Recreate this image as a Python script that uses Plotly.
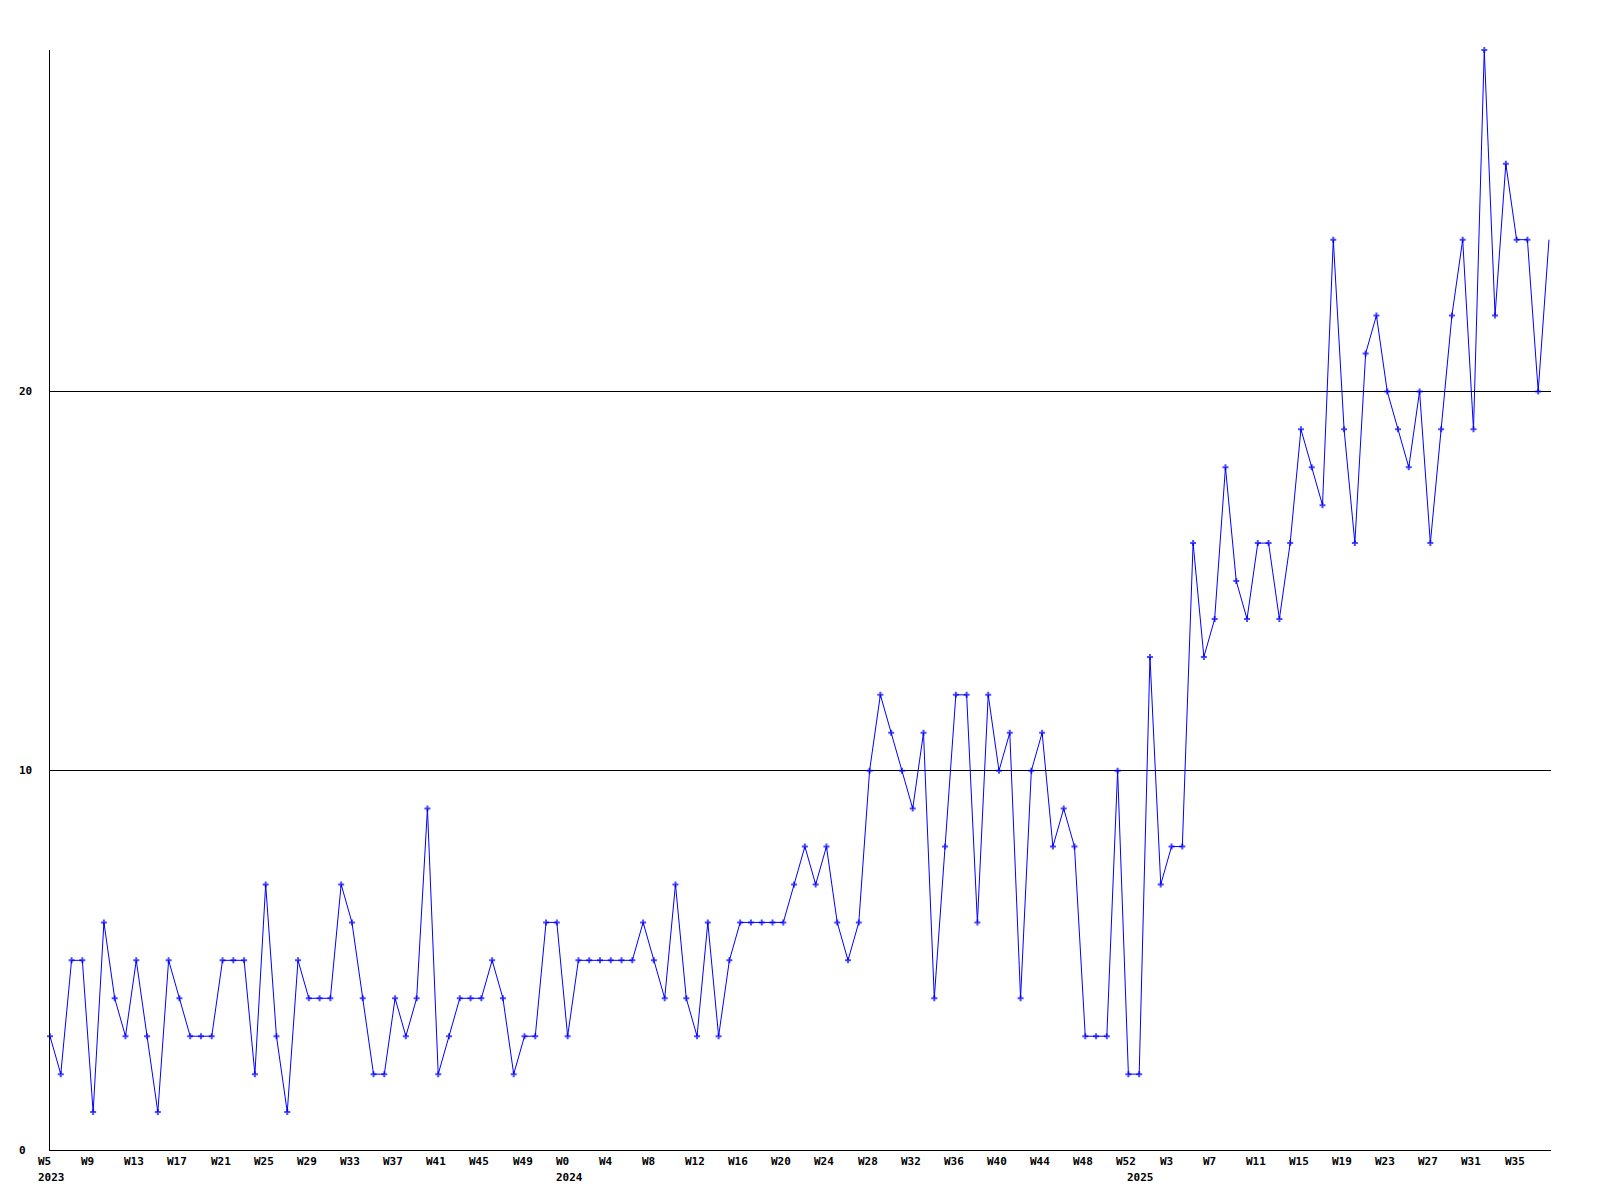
import plotly.graph_objects as go

# ---- data ----
years = [2023, 2024, 2025]
first_week = [5, 0, 0]
last_week = [52, 52, 38]

values = [
    3, 2, 5, 5, 1, 6, 4, 3, 5, 3,
    1, 5, 4, 3, 3, 3, 5, 5, 5, 2,
    7, 3, 1, 5, 4, 4, 4, 7, 6, 4,
    2, 2, 4, 3, 4, 9, 2, 3, 4, 4,
    4, 5, 4, 2, 3, 3, 6, 6, 3, 5,
    5, 5, 5, 5, 5, 6, 5, 4, 7, 4,
    3, 6, 3, 5, 6, 6, 6, 6, 6, 7,
    8, 7, 8, 6, 5, 6, 10, 12, 11, 10,
    9, 11, 4, 8, 12, 12, 6, 12, 10, 11,
    4, 10, 11, 8, 9, 8, 3, 3, 3, 10,
    2, 2, 13, 7, 8, 8, 16, 13, 14, 18,
    15, 14, 16, 16, 14, 16, 19, 18, 17, 24,
    19, 16, 21, 22, 20, 19, 18, 20, 16, 19,
    22, 24, 19, 29, 22, 26, 24, 24, 20, 24,
]

y_ticks = [0, 10, 20]
y_max = 29

# ---- derived week labels ----
week_labels = []
year_starts = []
for yr, fw, lw in zip(years, first_week, last_week):
    year_starts.append((len(week_labels), str(yr)))
    for w in range(fw, lw + 1):
        week_labels.append(f"W{w}")

n = len(values)
x = list(range(n))

# page body has an 8px default margin, compensate
W, H = 1592, 1192
ml, mr, mt, mb = 42, 49, 42, 50
plot_w = W - ml - mr
px_per_pt = 10.784
x_max = plot_w / px_per_pt

BLUE = "#0000FF"
FONT = dict(family="DejaVu Sans Mono", size=11, color="black", weight="bold")

fig = go.Figure()
sizes = [5] * (n - 1) + [0]
fig.add_trace(go.Scatter(
    x=x, y=values, mode="lines+markers",
    line=dict(color=BLUE, width=1),
    marker=dict(symbol="cross", size=sizes, color=BLUE, line=dict(width=0)),
    cliponaxis=False, hoverinfo="skip", showlegend=False,
))

annotations = []
# x week labels every 4 points
for i in range(0, n, 4):
    annotations.append(dict(
        x=i, y=0, xref="x", yref="paper", text=week_labels[i],
        showarrow=False, xanchor="left", yanchor="middle",
        xshift=-13, yshift=-11.5, font=FONT, borderpad=0,
    ))
# year labels
for idx, txt in year_starts:
    annotations.append(dict(
        x=idx, y=0, xref="x", yref="paper", text=txt,
        showarrow=False, xanchor="left", yanchor="middle",
        xshift=-13, yshift=-27, font=FONT, borderpad=0,
    ))
# y labels (left aligned)
for v in y_ticks:
    annotations.append(dict(
        x=0, y=v, xref="paper", yref="y", text=str(v),
        showarrow=False, xanchor="left", yanchor="middle",
        xshift=-32, font=FONT, borderpad=0,
    ))

fig.update_layout(
    width=W, height=H,
    margin=dict(l=ml, r=mr, t=mt, b=mb, pad=0),
    paper_bgcolor="white", plot_bgcolor="white",
    annotations=annotations,
    xaxis=dict(range=[0, x_max], showgrid=False, zeroline=False,
               showline=True, linecolor="black", linewidth=1,
               showticklabels=False, ticks=""),
    yaxis=dict(range=[0, y_max], tickvals=y_ticks, showgrid=True,
               gridcolor="black", gridwidth=1, zeroline=False,
               showline=True, linecolor="black", linewidth=1,
               showticklabels=False, ticks=""),
)

fig.write_html("out.html")
